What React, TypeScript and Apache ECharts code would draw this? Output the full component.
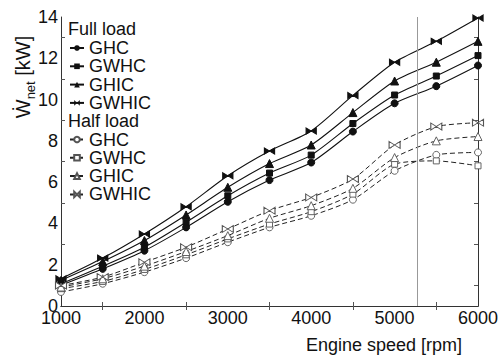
import React, { useEffect, useRef } from "react";
import * as echarts from "echarts";

const speeds = [1000, 1500, 2000, 2500, 3000, 3500, 4000, 4500, 5000, 5500, 6000];

const fullGHC = [1.0, 1.8, 2.68, 3.81, 5.05, 6.1, 6.95, 8.45, 9.82, 10.65, 11.65];
const fullGWHC = [1.08, 1.93, 2.85, 4.06, 5.34, 6.44, 7.31, 8.84, 10.22, 11.14, 12.13];
const fullGHIC = [1.24, 2.15, 3.17, 4.41, 5.75, 6.9, 7.8, 9.37, 10.9, 11.81, 12.82];
const fullGWHIC = [1.32, 2.32, 3.49, 4.81, 6.31, 7.51, 8.48, 10.2, 11.81, 12.82, 13.95];

const halfGHC = [0.68, 1.08, 1.64, 2.32, 3.09, 3.81, 4.37, 5.15, 6.55, 7.32, 7.44];
const halfGWHC = [0.84, 1.19, 1.77, 2.48, 3.25, 3.97, 4.57, 5.42, 6.87, 7.03, 6.79];
const halfGHIC = [0.92, 1.32, 1.93, 2.64, 3.41, 4.25, 4.86, 5.7, 7.19, 8.0, 8.21];
const halfGWHIC = [0.99, 1.4, 2.12, 2.85, 3.73, 4.62, 5.26, 6.15, 7.8, 8.69, 8.88];

const xLabelValues = [1000, 2000, 3000, 4000, 5000, 6000];
const xTickValues = [1500, 2500, 3500, 4500, 5500];
const yLabelValues = [0, 2, 4, 6, 8, 10, 12, 14];
const yTickValues = [1, 3, 5, 7, 9, 11, 13];
const refSpeed = [5270];

const xTitle = "Engine speed [rpm]";
const fullTitle = "Full load";
const halfTitle = "Half load";

const FONT = '"Liberation Sans", Arial, Helvetica, sans-serif';
const BOWTIE = "path://M0,0 L10,5 L0,10 Z M20,0 L10,5 L20,10 Z";

export default function App() {
  const ref = useRef<HTMLDivElement>(null);
  useEffect(() => {
    if (!ref.current) return;
    const chart = echarts.init(ref.current, undefined, { renderer: "svg" });
    const pairs = (ys: number[]) => speeds.map((x, i) => [x, ys[i]]);
    const full = (name: string, ys: number[], symbol: string, size: any) => ({
      name: name + "|full",
      type: "line",
      data: pairs(ys),
      smooth: 0.25,
      symbol,
      symbolSize: size,
      lineStyle: { color: "#111", width: 1.1 },
      itemStyle: { color: "#111", borderColor: "#111" },
      z: 3,
    });
    const half = (name: string, ys: number[], symbol: string, size: any) => ({
      name: name + "|half",
      type: "line",
      data: pairs(ys),
      smooth: 0.25,
      symbol,
      symbolSize: size,
      lineStyle: { color: "#222", width: 1, type: [5, 3] },
      itemStyle: { color: "#fff", borderColor: "#555", borderWidth: 0.9 },
      z: 3,
    });
    const series: any[] = [
      full("GHC", fullGHC, "circle", 7),
      full("GWHC", fullGWHC, "rect", 6),
      full("GHIC", fullGHIC, "triangle", 8),
      full("GWHIC", fullGWHIC, BOWTIE, [10, 6]),
      half("GHC", halfGHC, "circle", 7),
      half("GWHC", halfGWHC, "rect", 6),
      half("GHIC", halfGHIC, "triangle", 8),
      half("GWHIC", halfGWHIC, BOWTIE, [11, 7]),
    ];
    series[0].markLine = {
      silent: true,
      symbol: "none",
      label: { show: false },
      lineStyle: { color: "#999", width: 1, type: "solid" },
      data: refSpeed.map((v) => ({ xAxis: v })),
    };
    const axisLine = { show: true, lineStyle: { color: "#333", width: 1 } };
    const tickStyle = { show: true, inside: true, length: 4, lineStyle: { color: "#555" } };
    const legendCommon = {
      orient: "vertical",
      left: 69,
      padding: 0,
      itemWidth: 14,
      itemHeight: 7,
      itemGap: 0.3,
      textStyle: { fontFamily: FONT, fontSize: 18, color: "#111", lineHeight: 18 },
      formatter: (n: string) => n.split("|")[0],
      selectedMode: false,
    };
    const labelStyle = { fontFamily: FONT, fontSize: 18, color: "#111", margin: 3 };
    chart.setOption({
      animation: false,
      backgroundColor: "#fff",
      grid: { left: 61, right: 24, top: 17, bottom: 50 },
      xAxis: [
        {
          type: "value",
          min: 1000,
          max: 6000,
          position: "bottom",
          axisLine,
          axisTick: { ...tickStyle, customValues: xTickValues },
          axisLabel: { ...labelStyle, customValues: xLabelValues, formatter: (v: number) => String(v) },
          splitLine: { show: false },
        },
        {
          type: "value",
          min: 1000,
          max: 6000,
          position: "top",
          axisLine,
          axisTick: { ...tickStyle, customValues: xTickValues },
          axisLabel: { show: false },
          splitLine: { show: false },
        },
      ],
      yAxis: [
        {
          type: "value",
          min: 0,
          max: 14,
          position: "left",
          axisLine,
          axisTick: { ...tickStyle, customValues: yTickValues },
          axisLabel: { ...labelStyle, customValues: yLabelValues, formatter: (v: number) => String(v) },
          splitLine: { show: false },
        },
        {
          type: "value",
          min: 0,
          max: 14,
          position: "right",
          axisLine,
          axisTick: { ...tickStyle, customValues: yTickValues },
          axisLabel: { show: false },
          splitLine: { show: false },
        },
      ],
      legend: [
        { ...legendCommon, top: 39, data: series.slice(0, 4).map((s) => s.name) },
        { ...legendCommon, top: 130.5, data: series.slice(4).map((s) => s.name) },
      ],
      graphic: [
        {
          type: "text",
          left: 68,
          top: 20,
          style: { text: fullTitle, font: `18px ${FONT}`, fill: "#111" },
        },
        {
          type: "text",
          left: 68,
          top: 112,
          style: { text: halfTitle, font: `18px ${FONT}`, fill: "#111" },
        },
        {
          type: "text",
          x: 462,
          y: 345,
          style: {
            text: xTitle,
            font: `18px ${FONT}`,
            fill: "#111",
            align: "right",
            verticalAlign: "middle",
          },
        },
        {
          type: "text",
          x: 22,
          y: 77,
          rotation: Math.PI / 2,
          style: {
            text: "{w|Ẇ}{s|net}{w| [kW]}",
            align: "center",
            verticalAlign: "middle",
            fill: "#111",
            rich: {
              w: { fontFamily: FONT, fontSize: 20, fill: "#111", lineHeight: 22, verticalAlign: "bottom" },
              s: { fontFamily: FONT, fontSize: 13, fill: "#111", lineHeight: 22, verticalAlign: "bottom", padding: [0, 0, -4, 0] },
            },
          },
        },
      ],
      series,
    });
    return () => chart.dispose();
  }, []);
  return (
    <div
      ref={ref}
      style={{ position: "absolute", left: 0, top: 0, width: 502, height: 356 }}
    />
  );
}
